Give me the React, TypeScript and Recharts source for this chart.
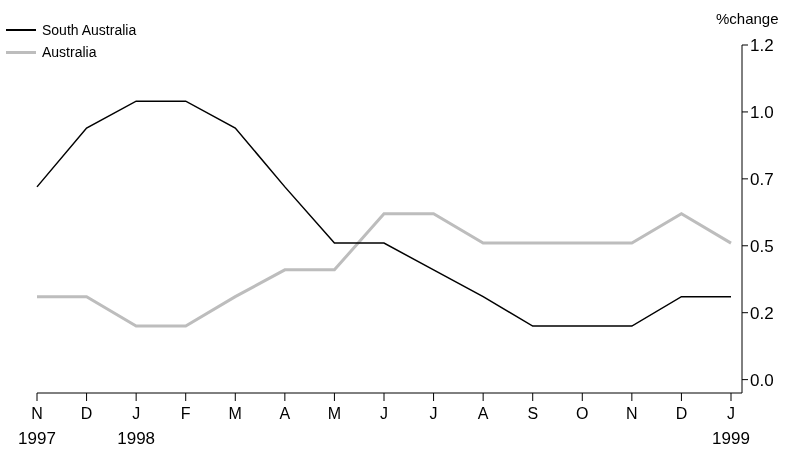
import { LineChart, Line, XAxis, YAxis } from 'recharts';

const months = ['N', 'D', 'J', 'F', 'M', 'A', 'M', 'J', 'J', 'A', 'S', 'O', 'N', 'D', 'J'];
const years = ['1997', '', '1998', '', '', '', '', '', '', '', '', '', '', '', '1999'];
const southAustralia = [0.72, 0.94, 1.04, 1.04, 0.94, 0.72, 0.51, 0.51, 0.41, 0.31, 0.2, 0.2, 0.2, 0.31, 0.31];
const australia = [0.31, 0.31, 0.2, 0.2, 0.31, 0.41, 0.41, 0.62, 0.62, 0.51, 0.51, 0.51, 0.51, 0.62, 0.51];
const yTicks = [0, 0.25, 0.5, 0.75, 1.0, 1.25];
const yLabels = ['0.0', '0.2', '0.5', '0.7', '1.0', '1.2'];

const data = months.map((m, i) => ({ i, m, sa: southAustralia[i], au: australia[i] }));
const font = '"Liberation Sans", Arial, sans-serif';

function XTick({ x, y, payload }: any) {
  const i = payload.value;
  return (
    <g fontFamily={font} fill="#000">
      <text x={x} y={y + 16} fontSize={16} textAnchor="middle">{months[i]}</text>
      {years[i] && <text x={x} y={y + 41} fontSize={17} textAnchor="middle">{years[i]}</text>}
    </g>
  );
}

export default function App() {
  return (
    <div style={{ position: 'fixed', left: 0, top: 0, width: 794, height: 450 }}>
      <div style={{ position: 'absolute', left: 716, top: 10, fontFamily: font, fontSize: 15 }}>%change</div>
      <div style={{ position: 'absolute', left: 6, top: 19, fontFamily: font, fontSize: 14, lineHeight: '22px' }}>
        <div style={{ display: 'flex', alignItems: 'center' }}>
          <span style={{ width: 30, height: 2, background: '#000', marginRight: 6 }} />South Australia
        </div>
        <div style={{ display: 'flex', alignItems: 'center' }}>
          <span style={{ width: 30, height: 3, background: '#bdbdbd', marginRight: 6 }} />Australia
        </div>
      </div>
      <LineChart width={794} height={450} data={data} margin={{ top: 45, right: 0, bottom: 0, left: 37 }} style={{ overflow: 'visible' }}>
        <XAxis
          dataKey="i"
          type="number"
          domain={[0, 14]}
          ticks={data.map((d) => d.i)}
          padding={{ left: 0, right: 11 }}
          height={57}
          tick={<XTick />}
          tickSize={8}
          stroke="#000"
          interval={0}
        />
        <YAxis
          orientation="right"
          type="number"
          domain={[-0.05, 1.25]}
          ticks={yTicks}
          tickFormatter={(v: number) => yLabels[yTicks.indexOf(v)]}
          width={52}
          tickSize={6}
          stroke="#000"
          tick={{ fill: '#000', fontSize: 17, fontFamily: font }}
          allowDataOverflow
        />
        <Line dataKey="au" stroke="#bdbdbd" strokeWidth={3} dot={false} isAnimationActive={false} />
        <Line dataKey="sa" stroke="#000" strokeWidth={1.5} dot={false} isAnimationActive={false} />
      </LineChart>
    </div>
  );
}
